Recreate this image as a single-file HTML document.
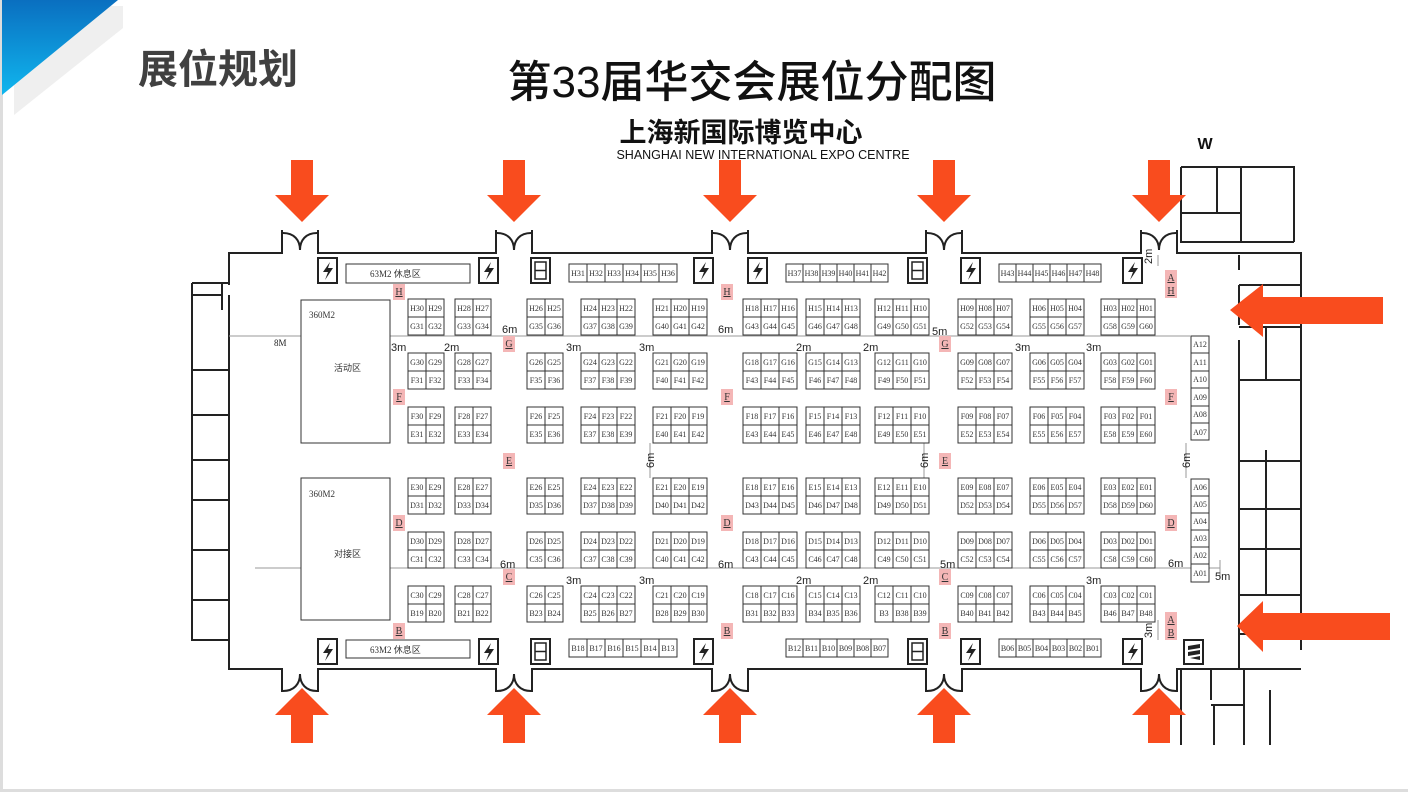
<!DOCTYPE html>
<html><head><meta charset="utf-8"><style>
html,body{margin:0;padding:0;background:#fff;}
svg{display:block}
.b text{font-family:"Liberation Serif",serif;font-size:8px;fill:#333;text-anchor:middle}
.d{font-family:"Liberation Sans",sans-serif;font-size:11px;fill:#222}
.m text{font-family:"Liberation Serif",serif;font-size:10px;fill:#333;text-anchor:middle;text-decoration:underline}
</style></head><body>
<svg width="1408" height="792" viewBox="0 0 1408 792" xmlns="http://www.w3.org/2000/svg">
<defs>
<linearGradient id="bg" x1="0" y1="0" x2="0" y2="1"><stop offset="0" stop-color="#0a6fc0"/><stop offset="1" stop-color="#10b6ee"/></linearGradient>
<g id="g2"><rect x="0" y="0" width="36" height="36" fill="#fff" stroke="#333" stroke-width="1"/><path d="M18,0V36M0,18H36" stroke="#333" stroke-width="1"/></g>
<g id="g3"><rect x="0" y="0" width="54" height="36" fill="#fff" stroke="#333" stroke-width="1"/><path d="M18,0V36M36,0V36M0,18H54" stroke="#333" stroke-width="1"/></g>
<g id="lt"><rect x="0" y="0" width="19" height="25" fill="#fff" stroke="#222" stroke-width="2"/><path d="M12,4 L5,14 H10 L7,22 L15,10 H10 Z" fill="#222"/></g>
<g id="el"><rect x="0" y="0" width="19" height="25" fill="#fff" stroke="#222" stroke-width="2"/><rect x="4" y="4" width="11" height="17" fill="none" stroke="#222" stroke-width="1.5"/><path d="M4,12.5H15" stroke="#222" stroke-width="1.5"/></g>
<g id="da"><polygon points="-11,0 11,0 11,35 27,35 0,62 -27,35 -11,35" fill="#f94c1e"/></g>
<g id="ua"><polygon points="-11,0 11,0 11,-28 27,-28 0,-55 -27,-28 -11,-28" fill="#f94c1e"/></g>
</defs>
<rect x="0" y="0" width="3" height="792" fill="#ddd"/>
<polygon points="14,6 123,6 123,28 14,115" fill="#efefef"/>
<polygon points="2,0 118,0 2,95" fill="url(#bg)"/>
<rect x="0" y="789" width="1408" height="3" fill="#ddd"/>
<text x="138" y="83" font-family="'Liberation Sans','Noto Sans CJK SC',sans-serif" font-size="40" font-weight="bold" fill="#404040">展位规划</text>
<text x="752" y="97" text-anchor="middle" font-family="'Liberation Sans','Noto Sans CJK SC',sans-serif" font-size="44" font-weight="500" fill="#111">第33届华交会展位分配图</text>
<text x="741" y="142" text-anchor="middle" font-family="'Liberation Sans','Noto Sans CJK SC',sans-serif" font-size="27" font-weight="bold" fill="#111">上海新国际博览中心</text>
<text x="763" y="159" text-anchor="middle" font-family="'Liberation Sans',sans-serif" font-size="12.5" fill="#111">SHANGHAI NEW  INTERNATIONAL EXPO CENTRE</text>
<text x="1205" y="149" text-anchor="middle" font-family="'Liberation Sans',sans-serif" font-size="16" font-weight="bold" fill="#111">W</text>

<g fill="none" stroke="#222" stroke-width="2">
<path d="M229,285 V253 H282 V230 M318,230 V253 H496 V230 M532,230 V253 H712 V230 M748,230 V253 H926 V230 M962,230 V253 H1141 V230 M1177,230 V253 H1301 V650"/>
<path d="M283,233 C294,233 300,240 300,250 C300,240 306,233 317,233 M497,233 C508,233 514,240 514,250 C514,240 520,233 531,233 M713,233 C724,233 730,240 730,250 C730,240 736,233 747,233 M927,233 C938,233 944,240 944,250 C944,240 950,233 961,233 M1142,233 C1153,233 1159,240 1159,250 C1159,240 1165,233 1176,233"/>
<path d="M229,295 V669 H282 V692 M318,692 V669 H496 V692 M532,692 V669 H712 V692 M748,692 V669 H926 V692 M962,692 V669 H1141 V692 M1177,692 V669 H1203"/>
<path d="M283,691 C294,691 300,684 300,674 C300,684 306,691 317,691 M497,691 C508,691 514,684 514,674 C514,684 520,691 531,691 M713,691 C724,691 730,684 730,674 C730,684 736,691 747,691 M927,691 C938,691 944,684 944,674 C944,684 950,691 961,691 M1142,691 C1153,691 1159,684 1159,674 C1159,684 1165,691 1176,691"/>
<path d="M192,283 H229 M192,283 V640 H229 M192,295 H222 M222,283 V310 M192,370 H229 M192,415 H229 M192,460 H229 M192,500 H229 M192,550 H229 M192,600 H229"/>
<path d="M1181,167 H1294 V242 M1181,167 V242 H1294 M1181,213 H1241 M1241,167 V242 M1217,167 V212"/>
<path d="M1239,255 V270 M1239,285 V325 M1239,340 V560 M1239,580 V669 M1239,285 H1301 M1239,327 H1301 M1266,327 V380 M1239,380 H1301 M1239,450 V669 M1266,450 V550 M1239,461 H1301 M1239,509 H1301 M1266,509 V595 M1239,549 H1301 M1239,595 H1301 M1239,634 H1301"/>
<path d="M1181,669 V745 M1181,669 H1301 M1211,669 V700 M1211,705 H1244 M1214,705 V745 M1244,669 V745 M1270,690 V745"/>
</g>

<g stroke="#999" stroke-width="1" fill="none">
<path d="M229,336 H1190 M255,568 H1220 M1220,560 V578 M650,443 V478 M924,443 V478 M1186,443 V478 M1158,255 V266 M1158,620 V640"/>
</g>
<g class="d">
<text x="274" y="346" font-family="'Liberation Serif',serif" font-size="9">8M</text>
<text x="502" y="333">6m</text><text x="391" y="351">3m</text><text x="444" y="351">2m</text><text x="566" y="351">3m</text><text x="639" y="351">3m</text>
<text x="718" y="333">6m</text><text x="796" y="351">2m</text><text x="863" y="351">2m</text><text x="932" y="335">5m</text><text x="1015" y="351">3m</text><text x="1086" y="351">3m</text>
<text x="500" y="568">6m</text><text x="566" y="584">3m</text><text x="639" y="584">3m</text><text x="718" y="568">6m</text><text x="796" y="584">2m</text><text x="863" y="584">2m</text>
<text x="940" y="568">5m</text><text x="1086" y="584">3m</text><text x="1168" y="567">6m</text><text x="1215" y="580">5m</text>
<text transform="translate(654,468) rotate(-90)">6m</text><text transform="translate(928,468) rotate(-90)">6m</text><text transform="translate(1190,468) rotate(-90)">6m</text>
<text transform="translate(1152,264) rotate(-90)">2m</text><text transform="translate(1152,638) rotate(-90)">3m</text>
</g>

<g stroke="#333" fill="#fff" stroke-width="1">
<rect x="346" y="264" width="124" height="19"/><rect x="346" y="640" width="124" height="18"/>
<rect x="301" y="300" width="89" height="143"/><rect x="301" y="478" width="89" height="142"/>
</g>
<g font-family="'Liberation Serif','Noto Sans CJK SC',serif" font-size="9" fill="#333">
<text x="370" y="277">63M2 休息区</text><text x="370" y="653">63M2 休息区</text>
<text x="309" y="318">360M2</text><text x="334" y="371">活动区</text>
<text x="309" y="497">360M2</text><text x="334" y="557">对接区</text>
</g>

<use href="#lt" x="318" y="258"/><use href="#lt" x="479" y="258"/><use href="#el" x="531" y="258"/><use href="#lt" x="694" y="258"/><use href="#lt" x="748" y="258"/><use href="#el" x="908" y="258"/><use href="#lt" x="961" y="258"/><use href="#lt" x="1123" y="258"/>
<use href="#lt" x="318" y="639"/><use href="#lt" x="479" y="639"/><use href="#el" x="531" y="639"/><use href="#lt" x="694" y="639"/><use href="#el" x="908" y="639"/><use href="#lt" x="961" y="639"/><use href="#lt" x="1123" y="639"/>
<g><rect x="1184" y="640" width="19" height="24" fill="#fff" stroke="#222" stroke-width="2"/><path d="M1188,646 L1200,644 L1200,648 L1188,650 Z M1188,652 L1200,650 L1200,654 L1188,656 Z M1190,658 L1200,656 L1200,660 Z" fill="#222"/></g>

<g class="m">
<g fill="#f4b6b6" stroke="none">
<rect x="393" y="284" width="12" height="16"/><rect x="503" y="336" width="12" height="16"/><rect x="393" y="389" width="12" height="16"/><rect x="503" y="453" width="12" height="16"/><rect x="393" y="515" width="12" height="16"/><rect x="503" y="569" width="12" height="16"/><rect x="393" y="623" width="12" height="16"/>
<rect x="721" y="284" width="12" height="16"/><rect x="721" y="389" width="12" height="16"/><rect x="721" y="515" width="12" height="16"/><rect x="721" y="623" width="12" height="16"/>
<rect x="939" y="336" width="12" height="16"/><rect x="939" y="453" width="12" height="16"/><rect x="939" y="569" width="12" height="16"/><rect x="939" y="623" width="12" height="16"/>
<rect x="1165" y="270" width="12" height="28"/><rect x="1165" y="389" width="12" height="16"/><rect x="1165" y="515" width="12" height="16"/><rect x="1165" y="612" width="12" height="28"/>
</g>
<text x="399" y="295">H</text><text x="509" y="347">G</text><text x="399" y="400">F</text><text x="509" y="464">E</text><text x="399" y="526">D</text><text x="509" y="580">C</text><text x="399" y="634">B</text>
<text x="727" y="295">H</text><text x="727" y="400">F</text><text x="727" y="526">D</text><text x="727" y="634">B</text>
<text x="945" y="347">G</text><text x="945" y="464">E</text><text x="945" y="580">C</text><text x="945" y="634">B</text>
<text x="1171" y="281">A</text><text x="1171" y="294">H</text><text x="1171" y="400">F</text><text x="1171" y="526">D</text><text x="1171" y="623">A</text><text x="1171" y="636">B</text>
</g>

<g class="b">
<g transform="translate(408,299)"><use href="#g2"/><text x="9" y="12">H30</text><text x="27" y="12">H29</text><text x="9" y="30">G31</text><text x="27" y="30">G32</text></g>
<g transform="translate(455,299)"><use href="#g2"/><text x="9" y="12">H28</text><text x="27" y="12">H27</text><text x="9" y="30">G33</text><text x="27" y="30">G34</text></g>
<g transform="translate(527,299)"><use href="#g2"/><text x="9" y="12">H26</text><text x="27" y="12">H25</text><text x="9" y="30">G35</text><text x="27" y="30">G36</text></g>
<g transform="translate(581,299)"><use href="#g3"/><text x="9" y="12">H24</text><text x="27" y="12">H23</text><text x="45" y="12">H22</text><text x="9" y="30">G37</text><text x="27" y="30">G38</text><text x="45" y="30">G39</text></g>
<g transform="translate(653,299)"><use href="#g3"/><text x="9" y="12">H21</text><text x="27" y="12">H20</text><text x="45" y="12">H19</text><text x="9" y="30">G40</text><text x="27" y="30">G41</text><text x="45" y="30">G42</text></g>
<g transform="translate(743,299)"><use href="#g3"/><text x="9" y="12">H18</text><text x="27" y="12">H17</text><text x="45" y="12">H16</text><text x="9" y="30">G43</text><text x="27" y="30">G44</text><text x="45" y="30">G45</text></g>
<g transform="translate(806,299)"><use href="#g3"/><text x="9" y="12">H15</text><text x="27" y="12">H14</text><text x="45" y="12">H13</text><text x="9" y="30">G46</text><text x="27" y="30">G47</text><text x="45" y="30">G48</text></g>
<g transform="translate(875,299)"><use href="#g3"/><text x="9" y="12">H12</text><text x="27" y="12">H11</text><text x="45" y="12">H10</text><text x="9" y="30">G49</text><text x="27" y="30">G50</text><text x="45" y="30">G51</text></g>
<g transform="translate(958,299)"><use href="#g3"/><text x="9" y="12">H09</text><text x="27" y="12">H08</text><text x="45" y="12">H07</text><text x="9" y="30">G52</text><text x="27" y="30">G53</text><text x="45" y="30">G54</text></g>
<g transform="translate(1030,299)"><use href="#g3"/><text x="9" y="12">H06</text><text x="27" y="12">H05</text><text x="45" y="12">H04</text><text x="9" y="30">G55</text><text x="27" y="30">G56</text><text x="45" y="30">G57</text></g>
<g transform="translate(1101,299)"><use href="#g3"/><text x="9" y="12">H03</text><text x="27" y="12">H02</text><text x="45" y="12">H01</text><text x="9" y="30">G58</text><text x="27" y="30">G59</text><text x="45" y="30">G60</text></g>
<g transform="translate(408,353)"><use href="#g2"/><text x="9" y="12">G30</text><text x="27" y="12">G29</text><text x="9" y="30">F31</text><text x="27" y="30">F32</text></g>
<g transform="translate(455,353)"><use href="#g2"/><text x="9" y="12">G28</text><text x="27" y="12">G27</text><text x="9" y="30">F33</text><text x="27" y="30">F34</text></g>
<g transform="translate(527,353)"><use href="#g2"/><text x="9" y="12">G26</text><text x="27" y="12">G25</text><text x="9" y="30">F35</text><text x="27" y="30">F36</text></g>
<g transform="translate(581,353)"><use href="#g3"/><text x="9" y="12">G24</text><text x="27" y="12">G23</text><text x="45" y="12">G22</text><text x="9" y="30">F37</text><text x="27" y="30">F38</text><text x="45" y="30">F39</text></g>
<g transform="translate(653,353)"><use href="#g3"/><text x="9" y="12">G21</text><text x="27" y="12">G20</text><text x="45" y="12">G19</text><text x="9" y="30">F40</text><text x="27" y="30">F41</text><text x="45" y="30">F42</text></g>
<g transform="translate(743,353)"><use href="#g3"/><text x="9" y="12">G18</text><text x="27" y="12">G17</text><text x="45" y="12">G16</text><text x="9" y="30">F43</text><text x="27" y="30">F44</text><text x="45" y="30">F45</text></g>
<g transform="translate(806,353)"><use href="#g3"/><text x="9" y="12">G15</text><text x="27" y="12">G14</text><text x="45" y="12">G13</text><text x="9" y="30">F46</text><text x="27" y="30">F47</text><text x="45" y="30">F48</text></g>
<g transform="translate(875,353)"><use href="#g3"/><text x="9" y="12">G12</text><text x="27" y="12">G11</text><text x="45" y="12">G10</text><text x="9" y="30">F49</text><text x="27" y="30">F50</text><text x="45" y="30">F51</text></g>
<g transform="translate(958,353)"><use href="#g3"/><text x="9" y="12">G09</text><text x="27" y="12">G08</text><text x="45" y="12">G07</text><text x="9" y="30">F52</text><text x="27" y="30">F53</text><text x="45" y="30">F54</text></g>
<g transform="translate(1030,353)"><use href="#g3"/><text x="9" y="12">G06</text><text x="27" y="12">G05</text><text x="45" y="12">G04</text><text x="9" y="30">F55</text><text x="27" y="30">F56</text><text x="45" y="30">F57</text></g>
<g transform="translate(1101,353)"><use href="#g3"/><text x="9" y="12">G03</text><text x="27" y="12">G02</text><text x="45" y="12">G01</text><text x="9" y="30">F58</text><text x="27" y="30">F59</text><text x="45" y="30">F60</text></g>
<g transform="translate(408,407)"><use href="#g2"/><text x="9" y="12">F30</text><text x="27" y="12">F29</text><text x="9" y="30">E31</text><text x="27" y="30">E32</text></g>
<g transform="translate(455,407)"><use href="#g2"/><text x="9" y="12">F28</text><text x="27" y="12">F27</text><text x="9" y="30">E33</text><text x="27" y="30">E34</text></g>
<g transform="translate(527,407)"><use href="#g2"/><text x="9" y="12">F26</text><text x="27" y="12">F25</text><text x="9" y="30">E35</text><text x="27" y="30">E36</text></g>
<g transform="translate(581,407)"><use href="#g3"/><text x="9" y="12">F24</text><text x="27" y="12">F23</text><text x="45" y="12">F22</text><text x="9" y="30">E37</text><text x="27" y="30">E38</text><text x="45" y="30">E39</text></g>
<g transform="translate(653,407)"><use href="#g3"/><text x="9" y="12">F21</text><text x="27" y="12">F20</text><text x="45" y="12">F19</text><text x="9" y="30">E40</text><text x="27" y="30">E41</text><text x="45" y="30">E42</text></g>
<g transform="translate(743,407)"><use href="#g3"/><text x="9" y="12">F18</text><text x="27" y="12">F17</text><text x="45" y="12">F16</text><text x="9" y="30">E43</text><text x="27" y="30">E44</text><text x="45" y="30">E45</text></g>
<g transform="translate(806,407)"><use href="#g3"/><text x="9" y="12">F15</text><text x="27" y="12">F14</text><text x="45" y="12">F13</text><text x="9" y="30">E46</text><text x="27" y="30">E47</text><text x="45" y="30">E48</text></g>
<g transform="translate(875,407)"><use href="#g3"/><text x="9" y="12">F12</text><text x="27" y="12">F11</text><text x="45" y="12">F10</text><text x="9" y="30">E49</text><text x="27" y="30">E50</text><text x="45" y="30">E51</text></g>
<g transform="translate(958,407)"><use href="#g3"/><text x="9" y="12">F09</text><text x="27" y="12">F08</text><text x="45" y="12">F07</text><text x="9" y="30">E52</text><text x="27" y="30">E53</text><text x="45" y="30">E54</text></g>
<g transform="translate(1030,407)"><use href="#g3"/><text x="9" y="12">F06</text><text x="27" y="12">F05</text><text x="45" y="12">F04</text><text x="9" y="30">E55</text><text x="27" y="30">E56</text><text x="45" y="30">E57</text></g>
<g transform="translate(1101,407)"><use href="#g3"/><text x="9" y="12">F03</text><text x="27" y="12">F02</text><text x="45" y="12">F01</text><text x="9" y="30">E58</text><text x="27" y="30">E59</text><text x="45" y="30">E60</text></g>
<g transform="translate(408,478)"><use href="#g2"/><text x="9" y="12">E30</text><text x="27" y="12">E29</text><text x="9" y="30">D31</text><text x="27" y="30">D32</text></g>
<g transform="translate(455,478)"><use href="#g2"/><text x="9" y="12">E28</text><text x="27" y="12">E27</text><text x="9" y="30">D33</text><text x="27" y="30">D34</text></g>
<g transform="translate(527,478)"><use href="#g2"/><text x="9" y="12">E26</text><text x="27" y="12">E25</text><text x="9" y="30">D35</text><text x="27" y="30">D36</text></g>
<g transform="translate(581,478)"><use href="#g3"/><text x="9" y="12">E24</text><text x="27" y="12">E23</text><text x="45" y="12">E22</text><text x="9" y="30">D37</text><text x="27" y="30">D38</text><text x="45" y="30">D39</text></g>
<g transform="translate(653,478)"><use href="#g3"/><text x="9" y="12">E21</text><text x="27" y="12">E20</text><text x="45" y="12">E19</text><text x="9" y="30">D40</text><text x="27" y="30">D41</text><text x="45" y="30">D42</text></g>
<g transform="translate(743,478)"><use href="#g3"/><text x="9" y="12">E18</text><text x="27" y="12">E17</text><text x="45" y="12">E16</text><text x="9" y="30">D43</text><text x="27" y="30">D44</text><text x="45" y="30">D45</text></g>
<g transform="translate(806,478)"><use href="#g3"/><text x="9" y="12">E15</text><text x="27" y="12">E14</text><text x="45" y="12">E13</text><text x="9" y="30">D46</text><text x="27" y="30">D47</text><text x="45" y="30">D48</text></g>
<g transform="translate(875,478)"><use href="#g3"/><text x="9" y="12">E12</text><text x="27" y="12">E11</text><text x="45" y="12">E10</text><text x="9" y="30">D49</text><text x="27" y="30">D50</text><text x="45" y="30">D51</text></g>
<g transform="translate(958,478)"><use href="#g3"/><text x="9" y="12">E09</text><text x="27" y="12">E08</text><text x="45" y="12">E07</text><text x="9" y="30">D52</text><text x="27" y="30">D53</text><text x="45" y="30">D54</text></g>
<g transform="translate(1030,478)"><use href="#g3"/><text x="9" y="12">E06</text><text x="27" y="12">E05</text><text x="45" y="12">E04</text><text x="9" y="30">D55</text><text x="27" y="30">D56</text><text x="45" y="30">D57</text></g>
<g transform="translate(1101,478)"><use href="#g3"/><text x="9" y="12">E03</text><text x="27" y="12">E02</text><text x="45" y="12">E01</text><text x="9" y="30">D58</text><text x="27" y="30">D59</text><text x="45" y="30">D60</text></g>
<g transform="translate(408,532)"><use href="#g2"/><text x="9" y="12">D30</text><text x="27" y="12">D29</text><text x="9" y="30">C31</text><text x="27" y="30">C32</text></g>
<g transform="translate(455,532)"><use href="#g2"/><text x="9" y="12">D28</text><text x="27" y="12">D27</text><text x="9" y="30">C33</text><text x="27" y="30">C34</text></g>
<g transform="translate(527,532)"><use href="#g2"/><text x="9" y="12">D26</text><text x="27" y="12">D25</text><text x="9" y="30">C35</text><text x="27" y="30">C36</text></g>
<g transform="translate(581,532)"><use href="#g3"/><text x="9" y="12">D24</text><text x="27" y="12">D23</text><text x="45" y="12">D22</text><text x="9" y="30">C37</text><text x="27" y="30">C38</text><text x="45" y="30">C39</text></g>
<g transform="translate(653,532)"><use href="#g3"/><text x="9" y="12">D21</text><text x="27" y="12">D20</text><text x="45" y="12">D19</text><text x="9" y="30">C40</text><text x="27" y="30">C41</text><text x="45" y="30">C42</text></g>
<g transform="translate(743,532)"><use href="#g3"/><text x="9" y="12">D18</text><text x="27" y="12">D17</text><text x="45" y="12">D16</text><text x="9" y="30">C43</text><text x="27" y="30">C44</text><text x="45" y="30">C45</text></g>
<g transform="translate(806,532)"><use href="#g3"/><text x="9" y="12">D15</text><text x="27" y="12">D14</text><text x="45" y="12">D13</text><text x="9" y="30">C46</text><text x="27" y="30">C47</text><text x="45" y="30">C48</text></g>
<g transform="translate(875,532)"><use href="#g3"/><text x="9" y="12">D12</text><text x="27" y="12">D11</text><text x="45" y="12">D10</text><text x="9" y="30">C49</text><text x="27" y="30">C50</text><text x="45" y="30">C51</text></g>
<g transform="translate(958,532)"><use href="#g3"/><text x="9" y="12">D09</text><text x="27" y="12">D08</text><text x="45" y="12">D07</text><text x="9" y="30">C52</text><text x="27" y="30">C53</text><text x="45" y="30">C54</text></g>
<g transform="translate(1030,532)"><use href="#g3"/><text x="9" y="12">D06</text><text x="27" y="12">D05</text><text x="45" y="12">D04</text><text x="9" y="30">C55</text><text x="27" y="30">C56</text><text x="45" y="30">C57</text></g>
<g transform="translate(1101,532)"><use href="#g3"/><text x="9" y="12">D03</text><text x="27" y="12">D02</text><text x="45" y="12">D01</text><text x="9" y="30">C58</text><text x="27" y="30">C59</text><text x="45" y="30">C60</text></g>
<g transform="translate(408,586)"><use href="#g2"/><text x="9" y="12">C30</text><text x="27" y="12">C29</text><text x="9" y="30">B19</text><text x="27" y="30">B20</text></g>
<g transform="translate(455,586)"><use href="#g2"/><text x="9" y="12">C28</text><text x="27" y="12">C27</text><text x="9" y="30">B21</text><text x="27" y="30">B22</text></g>
<g transform="translate(527,586)"><use href="#g2"/><text x="9" y="12">C26</text><text x="27" y="12">C25</text><text x="9" y="30">B23</text><text x="27" y="30">B24</text></g>
<g transform="translate(581,586)"><use href="#g3"/><text x="9" y="12">C24</text><text x="27" y="12">C23</text><text x="45" y="12">C22</text><text x="9" y="30">B25</text><text x="27" y="30">B26</text><text x="45" y="30">B27</text></g>
<g transform="translate(653,586)"><use href="#g3"/><text x="9" y="12">C21</text><text x="27" y="12">C20</text><text x="45" y="12">C19</text><text x="9" y="30">B28</text><text x="27" y="30">B29</text><text x="45" y="30">B30</text></g>
<g transform="translate(743,586)"><use href="#g3"/><text x="9" y="12">C18</text><text x="27" y="12">C17</text><text x="45" y="12">C16</text><text x="9" y="30">B31</text><text x="27" y="30">B32</text><text x="45" y="30">B33</text></g>
<g transform="translate(806,586)"><use href="#g3"/><text x="9" y="12">C15</text><text x="27" y="12">C14</text><text x="45" y="12">C13</text><text x="9" y="30">B34</text><text x="27" y="30">B35</text><text x="45" y="30">B36</text></g>
<g transform="translate(875,586)"><use href="#g3"/><text x="9" y="12">C12</text><text x="27" y="12">C11</text><text x="45" y="12">C10</text><text x="9" y="30">B3</text><text x="27" y="30">B38</text><text x="45" y="30">B39</text></g>
<g transform="translate(958,586)"><use href="#g3"/><text x="9" y="12">C09</text><text x="27" y="12">C08</text><text x="45" y="12">C07</text><text x="9" y="30">B40</text><text x="27" y="30">B41</text><text x="45" y="30">B42</text></g>
<g transform="translate(1030,586)"><use href="#g3"/><text x="9" y="12">C06</text><text x="27" y="12">C05</text><text x="45" y="12">C04</text><text x="9" y="30">B43</text><text x="27" y="30">B44</text><text x="45" y="30">B45</text></g>
<g transform="translate(1101,586)"><use href="#g3"/><text x="9" y="12">C03</text><text x="27" y="12">C02</text><text x="45" y="12">C01</text><text x="9" y="30">B46</text><text x="27" y="30">B47</text><text x="45" y="30">B48</text></g>

<g transform="translate(569,264)"><rect width="108" height="18" fill="#fff" stroke="#333"/><path d="M18,0V18M36,0V18M54,0V18M72,0V18M90,0V18" stroke="#333"/><text x="9" y="12">H31</text><text x="27" y="12">H32</text><text x="45" y="12">H33</text><text x="63" y="12">H34</text><text x="81" y="12">H35</text><text x="99" y="12">H36</text></g>
<g transform="translate(786,264)"><rect width="102" height="18" fill="#fff" stroke="#333"/><path d="M17,0V18M34,0V18M51,0V18M68,0V18M85,0V18" stroke="#333"/><text x="8.5" y="12">H37</text><text x="25.5" y="12">H38</text><text x="42.5" y="12">H39</text><text x="59.5" y="12">H40</text><text x="76.5" y="12">H41</text><text x="93.5" y="12">H42</text></g>
<g transform="translate(999,264)"><rect width="102" height="18" fill="#fff" stroke="#333"/><path d="M17,0V18M34,0V18M51,0V18M68,0V18M85,0V18" stroke="#333"/><text x="8.5" y="12">H43</text><text x="25.5" y="12">H44</text><text x="42.5" y="12">H45</text><text x="59.5" y="12">H46</text><text x="76.5" y="12">H47</text><text x="93.5" y="12">H48</text></g>
<g transform="translate(569,639)"><rect width="108" height="18" fill="#fff" stroke="#333"/><path d="M18,0V18M36,0V18M54,0V18M72,0V18M90,0V18" stroke="#333"/><text x="9" y="12">B18</text><text x="27" y="12">B17</text><text x="45" y="12">B16</text><text x="63" y="12">B15</text><text x="81" y="12">B14</text><text x="99" y="12">B13</text></g>
<g transform="translate(786,639)"><rect width="102" height="18" fill="#fff" stroke="#333"/><path d="M17,0V18M34,0V18M51,0V18M68,0V18M85,0V18" stroke="#333"/><text x="8.5" y="12">B12</text><text x="25.5" y="12">B11</text><text x="42.5" y="12">B10</text><text x="59.5" y="12">B09</text><text x="76.5" y="12">B08</text><text x="93.5" y="12">B07</text></g>
<g transform="translate(999,639)"><rect width="102" height="18" fill="#fff" stroke="#333"/><path d="M17,0V18M34,0V18M51,0V18M68,0V18M85,0V18" stroke="#333"/><text x="8.5" y="12">B06</text><text x="25.5" y="12">B05</text><text x="42.5" y="12">B04</text><text x="59.5" y="12">B03</text><text x="76.5" y="12">B02</text><text x="93.5" y="12">B01</text></g>
<g transform="translate(1191,336)"><rect width="18" height="104" fill="#fff" stroke="#333"/><path d="M0,17H18M0,35H18M0,52H18M0,70H18M0,87H18" stroke="#333"/><text x="9" y="11">A12</text><text x="9" y="29">A11</text><text x="9" y="46">A10</text><text x="9" y="64">A09</text><text x="9" y="81">A08</text><text x="9" y="99">A07</text></g>
<g transform="translate(1191,479)"><rect width="18" height="103" fill="#fff" stroke="#333"/><path d="M0,17H18M0,34H18M0,51H18M0,68H18M0,85H18" stroke="#333"/><text x="9" y="11">A06</text><text x="9" y="28">A05</text><text x="9" y="45">A04</text><text x="9" y="62">A03</text><text x="9" y="79">A02</text><text x="9" y="97">A01</text></g>
</g>

<use href="#da" x="302" y="160"/><use href="#da" x="514" y="160"/><use href="#da" x="730" y="160"/><use href="#da" x="944" y="160"/><use href="#da" x="1159" y="160"/>
<use href="#ua" x="302" y="743"/><use href="#ua" x="514" y="743"/><use href="#ua" x="730" y="743"/><use href="#ua" x="944" y="743"/><use href="#ua" x="1159" y="743"/>
<polygon points="1230,310 1263,284 1263,297 1383,297 1383,324 1263,324 1263,337" fill="#f94c1e"/>
<polygon points="1237,626 1263,601 1263,613 1390,613 1390,640 1263,640 1263,652" fill="#f94c1e"/>
</svg>
</body></html>
